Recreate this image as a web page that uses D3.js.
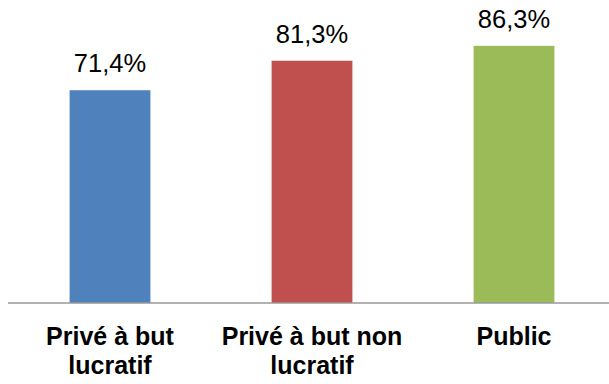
<!DOCTYPE html>
<html><head><meta charset="utf-8">
<script src="https://cdn.jsdelivr.net/npm/d3@7"></script>
<style>body{margin:0;background:#fff;}svg{display:block;}</style>
</head><body>
<script>
const categories = [["Privé à but", "lucratif"], ["Privé à but non", "lucratif"], ["Public"]];
const values = [71.4, 81.3, 86.3];
const valueLabels = ["71,4%", "81,3%", "86,3%"];
const colors = ["#4F81BD", "#C0504D", "#9BBB59"];

const W = 609, H = 384;
const svg = d3.select("body").append("svg").attr("width", W).attr("height", H);
const x = d3.scaleBand().domain(d3.range(values.length)).range([9, 615]).paddingInner(0.6).paddingOuter(0.3);
const y = d3.scaleLinear().domain([0, 100]).range([303, 5]);

svg.selectAll("rect.bar").data(values).join("rect").attr("class", "bar")
  .attr("x", (d, i) => x(i)).attr("width", x.bandwidth())
  .attr("y", d => y(d)).attr("height", d => y(0) - y(d))
  .attr("fill", (d, i) => colors[i]);

svg.selectAll("text.val").data(values).join("text").attr("class", "val")
  .attr("x", (d, i) => x(i) + x.bandwidth() / 2).attr("y", d => y(d) - 18)
  .attr("text-anchor", "middle").attr("font-family", "Liberation Sans, Arial, sans-serif")
  .attr("font-size", 25.5).attr("fill", "#000").text((d, i) => valueLabels[i]);

const xAxis = d3.axisBottom(x).tickSize(0).tickFormat(() => "");
const ax = svg.append("g").attr("transform", `translate(0,${y(0)})`).call(xAxis);
ax.select(".domain").attr("stroke", "#999").attr("stroke-width", 1.5).attr("d", "M8,0H609");

categories.forEach((lines, i) => {
  const t = svg.append("text").attr("text-anchor", "middle")
    .attr("font-family", "Liberation Sans, Arial, sans-serif").attr("font-weight", "bold")
    .attr("font-size", 25).attr("fill", "#000");
  lines.forEach((l, j) => {
    t.append("tspan").attr("x", x(i) + x.bandwidth() / 2).attr("y", 345 + j * 29).text(l);
  });
});
</script>
</body></html>
